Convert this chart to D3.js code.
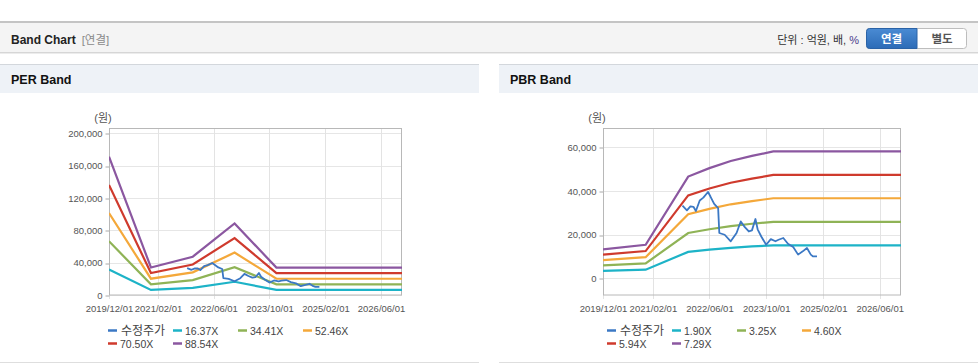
<!DOCTYPE html>
<html>
<head>
<meta charset="utf-8">
<script src="https://cdn.jsdelivr.net/npm/d3@7"></script>
<style>
body { margin: 0; background: #fff; font-family: "Liberation Sans", "Noto Sans CJK KR", sans-serif; }
svg { display: block; }
</style>
</head>
<body>
<svg id="chart" width="978" height="364"></svg>
<script>
// ---- data ----
var xTicks = ["2019/12/01", "2021/02/01", "2022/06/01", "2023/10/01", "2025/02/01", "2026/06/01"];
var xStart = "2019/12/01", xEnd = "2026/12/01";

var perTicks = [0, 40000, 80000, 120000, 160000, 200000];
var pbrTicks = [0, 20000, 40000, 60000];

var perLabels = ["16.37X", "34.41X", "52.46X", "70.50X", "88.54X"];
var perDates = ["2019/12/01", "2020/12/01", "2021/12/01", "2022/12/01", "2023/12/01", "2026/12/01"];
var per1 = [31640, 6300, 8760, 16370, 6270, 6270];
var per2 = [66520, 13250, 18410, 34410, 13180, 13180];
var per3 = [101410, 20200, 28070, 52460, 20090, 20090];
var per4 = [136280, 27140, 37720, 70500, 27000, 27000];
var per5 = [171150, 34090, 47370, 88540, 33910, 33910];

var pbrLabels = ["1.90X", "3.25X", "4.60X", "5.94X", "7.29X"];
var pbrDates = ["2019/12/01", "2020/12/01", "2021/12/01", "2022/06/01", "2022/12/01", "2023/06/01", "2023/12/01", "2026/12/01"];
var pbr1 = [3480, 4010, 12160, 13170, 14020, 14630, 15160, 15160];
var pbr2 = [5950, 6860, 20800, 22520, 23990, 25030, 25940, 25940];
var pbr3 = [8420, 9710, 29440, 31880, 33950, 35420, 36710, 36710];
var pbr4 = [10870, 12530, 38020, 41160, 43840, 45740, 47400, 47400];
var pbr5 = [13340, 15380, 46660, 50520, 53800, 56130, 58170, 58170];

// 수정주가 (adjusted price)
var priceDates = ["2021/10/13", "2021/11/20", "2021/12/20", "2022/01/15", "2022/02/05", "2022/03/10",
    "2022/04/10", "2022/05/20", "2022/06/10", "2022/07/12", "2022/08/15", "2022/08/25", "2022/10/10",
    "2022/12/01", "2023/01/20", "2023/02/25", "2023/04/01", "2023/05/05", "2023/06/01", "2023/07/01",
    "2023/07/20", "2023/08/20", "2023/10/01", "2023/11/10", "2023/12/20", "2024/01/15", "2024/02/25",
    "2024/04/05", "2024/05/20", "2024/07/01", "2024/08/10", "2024/09/15", "2024/10/18", "2024/11/05",
    "2024/12/10"];
var priceValues = [33300, 31200, 33000, 32800, 30900, 35700,
    37000, 39600, 37500, 34100, 32200, 20800, 20000,
    17000, 20800, 26100, 23500, 21500, 22000, 27200,
    22500, 19200, 15400, 18000, 17000, 17700, 18500,
    15900, 14400, 10900, 12400, 13900, 10900, 10100,
    10100];

var seriesColors = ["#3b78c4", "#1db3c7", "#8fb356", "#f4a83a", "#cf3a2d", "#8b57a0"];

var parse = d3.timeParse("%Y/%m/%d");
var svg = d3.select("#chart");

// ---- page header ----
svg.append("rect").attr("x", 0).attr("y", 22).attr("width", 978).attr("height", 30).attr("fill", "#f4f4f4");
svg.append("line").attr("x1", 0).attr("x2", 978).attr("y1", 22).attr("y2", 22).attr("stroke", "#c4c4c4").attr("stroke-width", 2);
svg.append("line").attr("x1", 0).attr("x2", 978).attr("y1", 52.5).attr("y2", 52.5).attr("stroke", "#d6d6d6");
svg.append("line").attr("x1", 0).attr("x2", 978).attr("y1", 53.5).attr("y2", 53.5).attr("stroke", "#ececec");

var head = svg.append("text").attr("x", 11).attr("y", 44).attr("font-size", 12);
head.append("tspan").attr("font-weight", "bold").attr("fill", "#222").text("Band Chart");
head.append("tspan").attr("dx", 6).attr("fill", "#8a8a8a").attr("font-size", 11.5).text("[연결]");

var unit = svg.append("text").attr("x", 859).attr("y", 44).attr("text-anchor", "end")
    .attr("font-size", 11).attr("fill", "#333");
unit.append("tspan").text("단위 : 억원, 배, ");
unit.append("tspan").attr("fill", "#4a3b8c").text("%");

var grad = svg.append("defs").append("linearGradient").attr("id", "btn").attr("x1", 0).attr("x2", 0).attr("y1", 0).attr("y2", 1);
grad.append("stop").attr("offset", "0%").attr("stop-color", "#4a8bd3");
grad.append("stop").attr("offset", "100%").attr("stop-color", "#2c6bb7");
svg.append("rect").attr("x", 866.5).attr("y", 28.5).attr("width", 100).attr("height", 20).attr("rx", 3)
    .attr("fill", "#fff").attr("stroke", "#bdbdbd");
svg.append("path").attr("d", "M869.5,28.5 H917 V48.5 H869.5 Q866.5,48.5 866.5,45.5 V31.5 Q866.5,28.5 869.5,28.5 Z")
    .attr("fill", "url(#btn)").attr("stroke", "#2a62a6");
svg.append("text").attr("x", 891.5).attr("y", 42.5).attr("text-anchor", "middle").attr("font-size", 11.5)
    .attr("font-weight", "bold").attr("fill", "#fff").text("연결");
svg.append("text").attr("x", 942).attr("y", 42.5).attr("text-anchor", "middle").attr("font-size", 11.5)
    .attr("font-weight", "bold").attr("fill", "#555").text("별도");

// ---- one panel ----
const drawPanel = opt => {
    var g = svg.append("g");

    g.append("rect").attr("x", opt.px).attr("y", 65).attr("width", 479).attr("height", 28).attr("fill", "#eef2f7");
    g.append("line").attr("x1", opt.px).attr("x2", opt.px + 479).attr("y1", 64.5).attr("y2", 64.5).attr("stroke", "#d3d7dc");
    g.append("line").attr("x1", opt.px).attr("x2", opt.px + 479).attr("y1", 362.5).attr("y2", 362.5).attr("stroke", "#dedede");
    g.append("text").attr("x", opt.px + 11).attr("y", 84).attr("font-size", 12.5).attr("font-weight", "bold")
        .attr("fill", "#111").text(opt.title);

    var x = d3.scaleTime().domain([parse(xStart), parse(xEnd)]).range([opt.left, opt.right]);
    var y = d3.scaleLinear().domain(opt.yDomain).range([295, 128]);

    // grid
    g.selectAll(".hgrid").data(opt.yTicks).enter().append("line")
        .attr("x1", opt.left).attr("x2", opt.right)
        .attr("y1", d => Math.round(y(d)) + 0.5).attr("y2", d => Math.round(y(d)) + 0.5)
        .attr("stroke", "#e6e6e6");
    g.selectAll(".vgrid").data(xTicks).enter().append("line")
        .attr("x1", d => Math.round(x(parse(d))) + 0.5).attr("x2", d => Math.round(x(parse(d))) + 0.5)
        .attr("y1", 128).attr("y2", 299)
        .attr("stroke", "#e3e3e3");

    // y axis
    var yAxis = g.append("g").attr("transform", "translate(" + (opt.left + 0.5) + ",0)")
        .call(d3.axisLeft(y).tickValues(opt.yTicks).tickSize(4).tickPadding(3).tickFormat(d3.format(",")));
    yAxis.select(".domain").remove();
    yAxis.selectAll("line").attr("stroke", "#aaa").attr("transform", d => "translate(0," + (Math.round(y(d)) + 0.5 - y(d)) + ")");
    yAxis.selectAll("text").attr("font-size", 9.5).attr("fill", "#555").attr("font-family", "Liberation Sans, sans-serif");

    // x axis labels
    var xAxis = g.append("g").attr("transform", "translate(0,295)")
        .call(d3.axisBottom(x).tickValues(xTicks.map(parse)).tickSize(0).tickPadding(10).tickFormat(d3.timeFormat("%Y/%m/%d")));
    xAxis.select(".domain").remove();
    xAxis.selectAll("text").attr("font-size", 9.5).attr("fill", "#555").attr("font-family", "Liberation Sans, sans-serif");

    // frame
    g.append("rect").attr("x", opt.left + 0.5).attr("y", 128.5).attr("width", opt.right - opt.left - 1).attr("height", 166.5)
        .attr("fill", "none").attr("stroke", "#b8b8b8");

    g.append("text").attr("x", opt.left - 6).attr("y", 121.5).attr("text-anchor", "middle")
        .attr("font-size", 11).attr("fill", "#555").text("(원)");

    // bands
    var line = d3.line().x(d => x(d[0])).y(d => y(d[1]));
    var clip = g.append("clipPath").attr("id", "clip" + opt.px).append("rect")
        .attr("x", opt.left).attr("y", 128).attr("width", opt.right - opt.left).attr("height", 167);
    var plot = g.append("g").attr("clip-path", "url(#clip" + opt.px + ")");
    opt.bands.forEach((vals, i) => {
        plot.append("path")
            .datum(opt.bandDates.map((d, j) => [parse(d), vals[j]]))
            .attr("d", line).attr("fill", "none")
            .attr("stroke", seriesColors[i + 1]).attr("stroke-width", 2.2);
    });
    plot.append("path")
        .datum(priceDates.map((d, j) => [parse(d), priceValues[j]]))
        .attr("d", line).attr("fill", "none")
        .attr("stroke", seriesColors[0]).attr("stroke-width", 1.8).attr("stroke-linejoin", "round");

    // legend
    var names = ["수정주가"].concat(opt.labels);
    var leg = g.selectAll(".leg").data(names).enter().append("g")
        .attr("transform", (d, i) => "translate(" + (opt.legendX + (i % 4) * 65) + "," + (i < 4 ? 330 : 343) + ")");
    leg.append("line").attr("x1", 0).attr("x2", 9).attr("y1", 0.5).attr("y2", 0.5)
        .attr("stroke", (d, i) => seriesColors[i]).attr("stroke-width", 2.5);
    leg.append("text").attr("x", (d, i) => i === 0 ? 13 : 12).attr("y", 4.5)
        .attr("font-size", (d, i) => i === 0 ? 12 : 10.5).attr("fill", "#444").text(d => d);
};

drawPanel({
    px: 0, title: "PER Band", left: 109, right: 402, legendX: 108,
    yDomain: [0, 206700], yTicks: perTicks,
    labels: perLabels, bandDates: perDates, bands: [per1, per2, per3, per4, per5]
});
drawPanel({
    px: 499, title: "PBR Band", left: 603, right: 901, legendX: 607,
    yDomain: [-7600, 68900], yTicks: pbrTicks,
    labels: pbrLabels, bandDates: pbrDates, bands: [pbr1, pbr2, pbr3, pbr4, pbr5]
});
</script>
</body>
</html>
